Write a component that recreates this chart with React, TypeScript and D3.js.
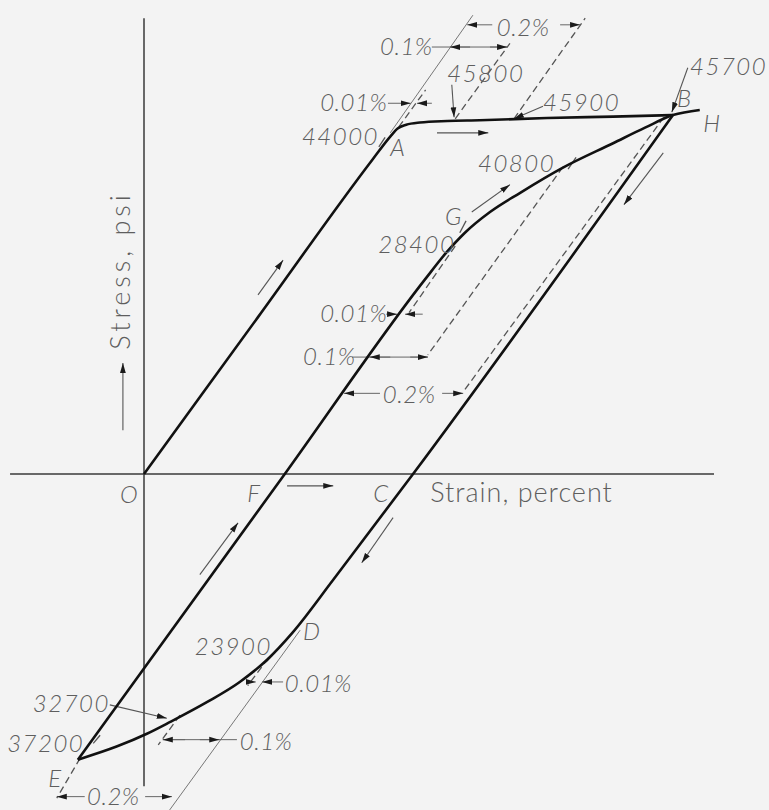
import React from "react";
import * as d3 from "d3";

const W = 769;
const H = 810;

type P = [number, number];
type Seg = [P, P];

// strain in percent, stress in ksi (labels give psi)
const primaryCurve: P[] = [
  [0, 0], [0.2, 21.2], [0.4, 42.4], [0.432, 45.6], [0.445, 46.7], [0.46, 47.2],
  [0.484, 47.5], [0.532, 47.7], [0.589, 47.8], [0.707, 48.1], [0.823, 48.3], [0.928, 48.5],
];
const unloadCurve: P[] = [
  [-0.116, -38.6], [-0.047, -36.8], [0.005, -35.1], [0.046, -33.5], [0.111, -30.8],
  [0.168, -28.1], [0.216, -25.1], [0.261, -21.4], [0.332, -14.3], [0.472, 0], [0.928, 48.5],
];
const reloadCurve: P[] = [
  [-0.116, -38.6], [0.247, 0], [0.493, 26.3], [0.528, 29.7], [0.563, 32.6], [0.607, 35.4],
  [0.66, 38.0], [0.735, 41.4], [0.823, 44.7], [0.879, 46.8], [0.928, 48.5], [0.975, 49.2],
];

const strainAxis: P[] = [[-0.235, 0], [1.0, 0]];
const stressAxis: P[] = [[0, 61.6], [0, -42.2]];

const elasticGuides: Seg[] = [
  [[0.432, 46.1], [0.577, 62.0]],
  [[0.274, -21.1], [0.045, -45.4]],
];
const offsetLines: Seg[] = [
  [[0.447, 46.9], [0.494, 51.9]],
  [[0.546, 48.0], [0.642, 58.2]],
  [[0.649, 48.0], [0.774, 61.6]],
  [[0.546, 30.8], [0.465, 21.8]],
  [[0.735, 41.5], [0.498, 16.1]],
  [[0.912, 48.2], [0.56, 11.1]],
  [[0.218, -24.9], [0.182, -28.6]],
  [[0.063, -32.6], [0.025, -36.6]],
  [[-0.112, -38.4], [-0.153, -43.8]],
];
const flowArrows: Seg[] = [
  [[0.2, 24.2], [0.244, 28.9]],
  [[0.514, 46.1], [0.604, 46.1]],
  [[0.575, 35.4], [0.642, 39.1]],
  [[0.911, 43.4], [0.842, 36.4]],
  [[0.251, -1.6], [0.332, -1.6]],
  [[0.437, -5.9], [0.382, -12.0]],
  [[0.098, -13.6], [0.165, -6.6]],
  [[-0.037, 5.9], [-0.037, 15.0]],
];
const leaderArrows: Seg[] = [
  [[0.54, 52.6], [0.544, 48.2]],
  [[0.7, 49.7], [0.649, 48.0]],
  [[0.954, 54.9], [0.926, 48.9]],
  [[-0.06, -31.2], [0.04, -33.0]],
];
const dimArrows: Seg[] = [
  [[0.611, 60.7], [0.567, 60.7]], [[0.73, 60.7], [0.765, 60.7]],
  [[0.572, 57.7], [0.537, 57.7]], [[0.607, 57.7], [0.637, 57.7]],
  [[0.428, 50.1], [0.468, 50.1]], [[0.505, 50.1], [0.479, 50.1]],
  [[0.425, 21.6], [0.444, 21.6]], [[0.489, 21.6], [0.458, 21.6]],
  [[0.432, 15.8], [0.396, 15.8]], [[0.467, 15.8], [0.498, 15.8]],
  [[0.414, 10.9], [0.351, 10.9]], [[0.523, 10.9], [0.56, 10.9]],
  [[0.244, -28.1], [0.207, -28.1]], [[0.179, -28.1], [0.196, -28.1]],
  [[0.072, -35.9], [0.033, -35.9]], [[0.098, -35.9], [0.132, -35.9]],
  [[-0.104, -43.6], [-0.153, -43.6]], [[0.002, -43.6], [0.049, -43.6]],
];
const dimLines: Seg[] = [
  [[0.505, 57.7], [0.637, 57.7]],
  [[0.365, 15.8], [0.498, 15.8]],
  [[0.033, -35.9], [0.163, -35.9]],
];
const ticks: Seg[] = [
  [[0.412, 44.2], [0.423, 45.5]],
  [[0.744, 41.2], [0.758, 42.8]],
  [[0.554, 32.6], [0.565, 34.2]],
  [[0.214, -25.4], [0.225, -24.5]],
  [[-0.089, -36.4], [-0.077, -35.3]],
];

const valueTexts = ["44000", "45800", "45900", "45700", "40800", "28400", "23900", "32700", "37200"];
const valueAt: P[] = [
  [0.277, 44.5], [0.532, 53.0], [0.7, 49.1], [0.958, 53.9], [0.586, 40.8],
  [0.411, 29.9], [0.089, -24.5], [-0.195, -32.2], [-0.24, -37.6],
];
const pctTexts = ["0.2%", "0.1%", "0.01%", "0.01%", "0.1%", "0.2%", "0.01%", "0.1%", "0.2%"];
const pctAt: P[] = [
  [0.619, 59.2], [0.414, 56.6], [0.309, 49.1], [0.309, 20.5], [0.279, 14.7],
  [0.419, 9.6], [0.247, -29.5], [0.168, -37.3], [-0.1, -44.7],
];
const pointTexts = ["A", "B", "H", "G", "O", "F", "C", "D", "E"];
const pointAt: P[] = [
  [0.432, 43.0], [0.935, 49.6], [0.981, 46.2], [0.528, 33.6], [-0.042, -3.9],
  [0.181, -3.8], [0.402, -3.8], [0.279, -22.4], [-0.168, -42.3],
];
const strainTitle = "Strain, percent";
const strainTitleAt: P = [0.502, -3.8];
const stressTitle = "Stress, psi";
const stressTitleAt: P = [-0.025, 16.8];

export default function App() {
  const x = d3.scaleLinear().domain([0, 1]).range([144, 714]);
  const y = d3.scaleLinear().domain([0, 50]).range([474, 104]);
  const curve = d3.line<P>().x((d) => x(d[0])).y((d) => y(d[1])).curve(d3.curveMonotoneX);
  const straight = d3.line<P>().x((d) => x(d[0])).y((d) => y(d[1]));

  const textFill = "#5e5e5e";
  const font = "Lato, 'DejaVu Sans', sans-serif";

  const seg = (s: Seg, key: string, props: any) => (
    <path key={key} d={straight(s) || ""} fill="none" {...props} />
  );

  return (
    <svg width={W} height={H} style={{ position: "absolute", left: 0, top: 0 }}>
      <defs>
        <marker id="head" markerUnits="userSpaceOnUse" markerWidth={11} markerHeight={7}
          refX={10} refY={3.5} orient="auto">
          <path d="M0,0.6 L10,3.5 L0,6.4 Z" fill="#1a1a1a" />
        </marker>
      </defs>
      <rect width={W} height={H} fill="#f3f3f3" />

      {/* axes */}
      <path d={straight(strainAxis) || ""} stroke="#3a3a3a" strokeWidth={1.7} fill="none" />
      <path d={straight(stressAxis) || ""} stroke="#3a3a3a" strokeWidth={1.5} fill="none" />

      {/* thin guides */}
      {elasticGuides.map((s, i) => seg(s, "g" + i, { stroke: "#777", strokeWidth: 1 }))}
      {offsetLines.map((s, i) =>
        seg(s, "o" + i, { stroke: "#555", strokeWidth: 1.3, strokeDasharray: "7,4" })
      )}
      {dimLines.map((s, i) => seg(s, "dl" + i, { stroke: "#666", strokeWidth: 1 }))}
      {dimArrows.map((s, i) =>
        seg(s, "da" + i, { stroke: "#666", strokeWidth: 1, markerEnd: "url(#head)" })
      )}
      {flowArrows.map((s, i) =>
        seg(s, "fa" + i, { stroke: "#555", strokeWidth: 1.1, markerEnd: "url(#head)" })
      )}
      {leaderArrows.map((s, i) =>
        seg(s, "la" + i, { stroke: "#555", strokeWidth: 1.1, markerEnd: "url(#head)" })
      )}
      {ticks.map((s, i) => seg(s, "t" + i, { stroke: "#555", strokeWidth: 1.3 }))}

      {/* main curves */}
      <path d={curve(primaryCurve) || ""} stroke="#111" strokeWidth={2.6} fill="none" />
      <path d={curve(unloadCurve) || ""} stroke="#111" strokeWidth={2.6} fill="none" />
      <path d={curve(reloadCurve) || ""} stroke="#111" strokeWidth={2.6} fill="none" />

      {/* labels */}
      <g fontFamily={font} fontStyle="italic" fontSize={24} fill={textFill} fontWeight={300}>
        {valueTexts.map((t, i) => (
          <text key={"v" + i} x={x(valueAt[i][0])} y={y(valueAt[i][1])} letterSpacing={1.5}>{t}</text>
        ))}
        {pctTexts.map((t, i) => (
          <text key={"p" + i} x={x(pctAt[i][0])} y={y(pctAt[i][1])} letterSpacing={0.5}>{t}</text>
        ))}
        {pointTexts.map((t, i) => (
          <text key={"l" + i} x={x(pointAt[i][0])} y={y(pointAt[i][1])}>{t}</text>
        ))}
      </g>
      <text x={x(strainTitleAt[0])} y={y(strainTitleAt[1])} fontFamily={font} fontSize={27}
        fontWeight={300} fill={textFill} letterSpacing={1}>{strainTitle}</text>
      <text transform={`translate(${x(stressTitleAt[0])},${y(stressTitleAt[1])}) rotate(-90)`}
        fontFamily={font} fontSize={27} fontWeight={300} fill={textFill} letterSpacing={4}>
        {stressTitle}
      </text>
    </svg>
  );
}
